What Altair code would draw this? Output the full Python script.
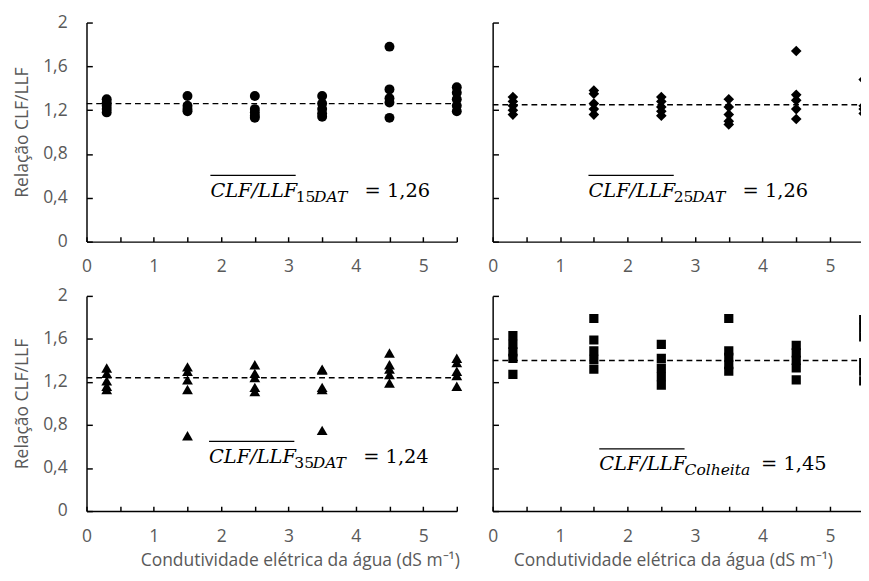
import altair as alt
import pandas as pd

# ---------------- data ----------------
ce_levels = [0.3, 1.5, 2.5, 3.5, 4.5, 5.5]
x_tick_values = [0, 0.5, 1, 1.5, 2, 2.5, 3, 3.5, 4, 4.5, 5, 5.5]
x_label_values = [0, 1, 2, 3, 4, 5]
y_values = [0, 0.4, 0.8, 1.2, 1.6, 2.0]

r_15dat = [
    [1.30, 1.27, 1.24, 1.21, 1.18],
    [1.33, 1.24, 1.21, 1.19],
    [1.33, 1.21, 1.18, 1.15, 1.13],
    [1.33, 1.26, 1.21, 1.17, 1.14],
    [1.78, 1.39, 1.31, 1.27, 1.13],
    [1.41, 1.36, 1.30, 1.24, 1.19],
]
r_25dat = [
    [1.32, 1.28, 1.24, 1.20, 1.16],
    [1.38, 1.35, 1.26, 1.21, 1.16],
    [1.32, 1.28, 1.23, 1.19, 1.15],
    [1.30, 1.23, 1.16, 1.10, 1.07],
    [1.74, 1.34, 1.29, 1.21, 1.12],
    [1.48, 1.24, 1.21, 1.17],
]
r_35dat = [
    [1.33, 1.28, 1.21, 1.16, 1.13],
    [1.34, 1.30, 1.22, 1.13, 0.70],
    [1.36, 1.28, 1.24, 1.15, 1.11],
    [1.32, 1.31, 1.15, 1.13, 0.75],
    [1.47, 1.36, 1.32, 1.27, 1.19],
    [1.42, 1.38, 1.30, 1.26, 1.16],
]
r_colheita = [
    [1.63, 1.55, 1.48, 1.42, 1.27],
    [1.79, 1.59, 1.49, 1.41, 1.32],
    [1.55, 1.42, 1.33, 1.25, 1.17],
    [1.79, 1.49, 1.43, 1.36, 1.30],
    [1.54, 1.47, 1.40, 1.33, 1.22],
    [1.78, 1.70, 1.62, 1.38, 1.30, 1.21],
]
mean_lines = [1.26, 1.25, 1.24, 1.40]

ann_main = "CLF/LLF"
ann_sub_num = ["15", "25", "35", ""]
ann_sub_it = ["DAT", "DAT", "DAT", "Colheita"]
ann_eq = ["= 1,26", "= 1,26", "= 1,24", "= 1,45"]
ann_x = [1.84, 1.42, 1.82, 1.58]
ann_y = [0.41, 0.41, 0.45, 0.38]

y_title = "Relação CLF/LLF"
x_title = "Condutividade elétrica da água (dS m⁻¹)"

GRAY = "#595959"
LABEL_EXPR = "replace(format(datum.value, '.1~f'), '.', ',')"


def make_panel(i, values, shape, size, left, bottom, width, height, xmax, title_x):
    rows = [{"ce": c, "r": v} for c, vs in zip(ce_levels, values) for v in vs]
    df = pd.DataFrame(rows)
    xs = alt.Scale(domain=[0, xmax], nice=False, zero=False)
    ys = alt.Scale(domain=[0, 2], nice=False)

    if left:
        y_lab_axis = alt.Axis(orient="left", values=y_values, ticks=False, tickSize=0,
                              labelPadding=20, labelExpr=LABEL_EXPR, domainWidth=1.5,
                              labelFlush=False, titlePadding=12, grid=False)
    else:
        y_lab_axis = alt.Axis(orient="left", values=y_values, ticks=False, tickSize=0,
                              labels=False, domainWidth=1.5, grid=False)
    if bottom:
        x_lab_axis = alt.Axis(orient="bottom", values=x_label_values, ticks=False, tickSize=0,
                              labelPadding=17, domainWidth=1.5, labelFlush=False,
                              titlePadding=7, titleX=title_x, grid=False)
    else:
        x_lab_axis = alt.Axis(orient="bottom", values=x_label_values, ticks=False, tickSize=0,
                              labelPadding=17, domainWidth=1.5, labelFlush=False, grid=False)

    y_tick_axis = alt.Axis(orient="left", values=y_values, offset=-6, tickSize=6, tickWidth=1.5,
                           domain=False, labels=False, grid=False)
    x_tick_axis = alt.Axis(orient="bottom", values=x_tick_values, offset=-5, tickSize=5,
                           tickWidth=1.5, domain=False, labels=False, grid=False)

    clip = xmax < ce_levels[-1]
    pts = alt.Chart(df).mark_point(shape=shape, filled=True, size=size, color="black",
                                    opacity=1, clip=clip).encode(
        x=alt.X("ce:Q", scale=xs, axis=x_lab_axis, title=x_title if bottom else None),
        y=alt.Y("r:Q", scale=ys, axis=y_lab_axis, title=y_title if left else None),
    )

    dm = pd.DataFrame({"m": [mean_lines[i]], "x0": [0.0], "x1": [ce_levels[-1]]})
    rule = alt.Chart(dm).mark_rule(color="black", strokeDash=[6, 4], strokeWidth=1.5,
                                   clip=True).encode(
        x=alt.X("x0:Q", scale=xs, axis=x_tick_axis, title=None),
        x2="x1:Q",
        y=alt.Y("m:Q", scale=ys, axis=y_tick_axis, title=None),
    )

    da = pd.DataFrame({"ax": [ann_x[i]], "ay": [ann_y[i]], "main": [ann_main],
                       "num": [ann_sub_num[i]], "it": [ann_sub_it[i]], "eq": [ann_eq[i]]})
    enc = dict(x=alt.X("ax:Q", scale=xs, axis=None), y=alt.Y("ay:Q", scale=ys, axis=None))
    main_w = 86
    num_w = 19 if ann_sub_num[i] else 0
    eq_dx = 159 if ann_sub_num[i] else 167
    base = alt.Chart(da)
    t_main = base.mark_text(align="left", baseline="alphabetic", font="DejaVu Serif",
                            fontStyle="italic", fontSize=20, color="black").encode(
        text="main:N", **enc)
    layers = [pts, rule, t_main]
    if ann_sub_num[i]:
        t_num = base.mark_text(align="left", baseline="alphabetic", font="DejaVu Serif",
                               fontSize=16, color="black", dx=main_w + 2, dy=5).encode(
            text="num:N", **enc)
        layers.append(t_num)
    t_it = base.mark_text(align="left", baseline="alphabetic", font="DejaVu Serif",
                          fontStyle="italic", fontSize=16, color="black",
                          dx=main_w + 2 + num_w, dy=5).encode(text="it:N", **enc)
    t_eq = base.mark_text(align="left", baseline="alphabetic", font="DejaVu Serif",
                          fontSize=20, color="black", dx=eq_dx).encode(text="eq:N", **enc)
    over = base.mark_rule(color="black", strokeWidth=1.2, yOffset=-22,
                          x2Offset=main_w + 2).encode(
        x=alt.X("ax:Q", scale=xs, axis=None), x2="ax:Q",
        y=alt.Y("ay:Q", scale=ys, axis=None))
    layers += [t_it, t_eq, over]

    return alt.layer(*layers).resolve_axis(x="independent", y="independent").properties(
        width=width, height=height)


p1 = make_panel(0, r_15dat, "circle", 105, True, False, 382, 226, 5.5, 0)
p2 = make_panel(1, r_25dat, "diamond", 120, False, False, 380, 226, 5.46, 0)
p3 = make_panel(2, r_35dat, "triangle-up", 125, True, True, 382, 222, 5.5, 220)
p4 = make_panel(3, r_colheita, "square", 90, False, True, 380, 222, 5.46, 186)

top = alt.hconcat(p1, p2, spacing=25)
bottom = alt.hconcat(p3, p4, spacing=25)

chart = alt.vconcat(top, bottom, spacing=12).properties(
    padding={"left": 5, "top": -3, "right": 0, "bottom": 0}
).configure_view(stroke=None).configure_axis(
    labelFont="Open Sans", labelFontSize=18, labelColor=GRAY,
    titleFont="Open Sans", titleFontSize=18, titleColor=GRAY, titleFontWeight="normal",
    domainColor="black", tickColor="black", grid=False,
)

chart.save("out.html", embed_options={"renderer": "svg", "actions": False})
